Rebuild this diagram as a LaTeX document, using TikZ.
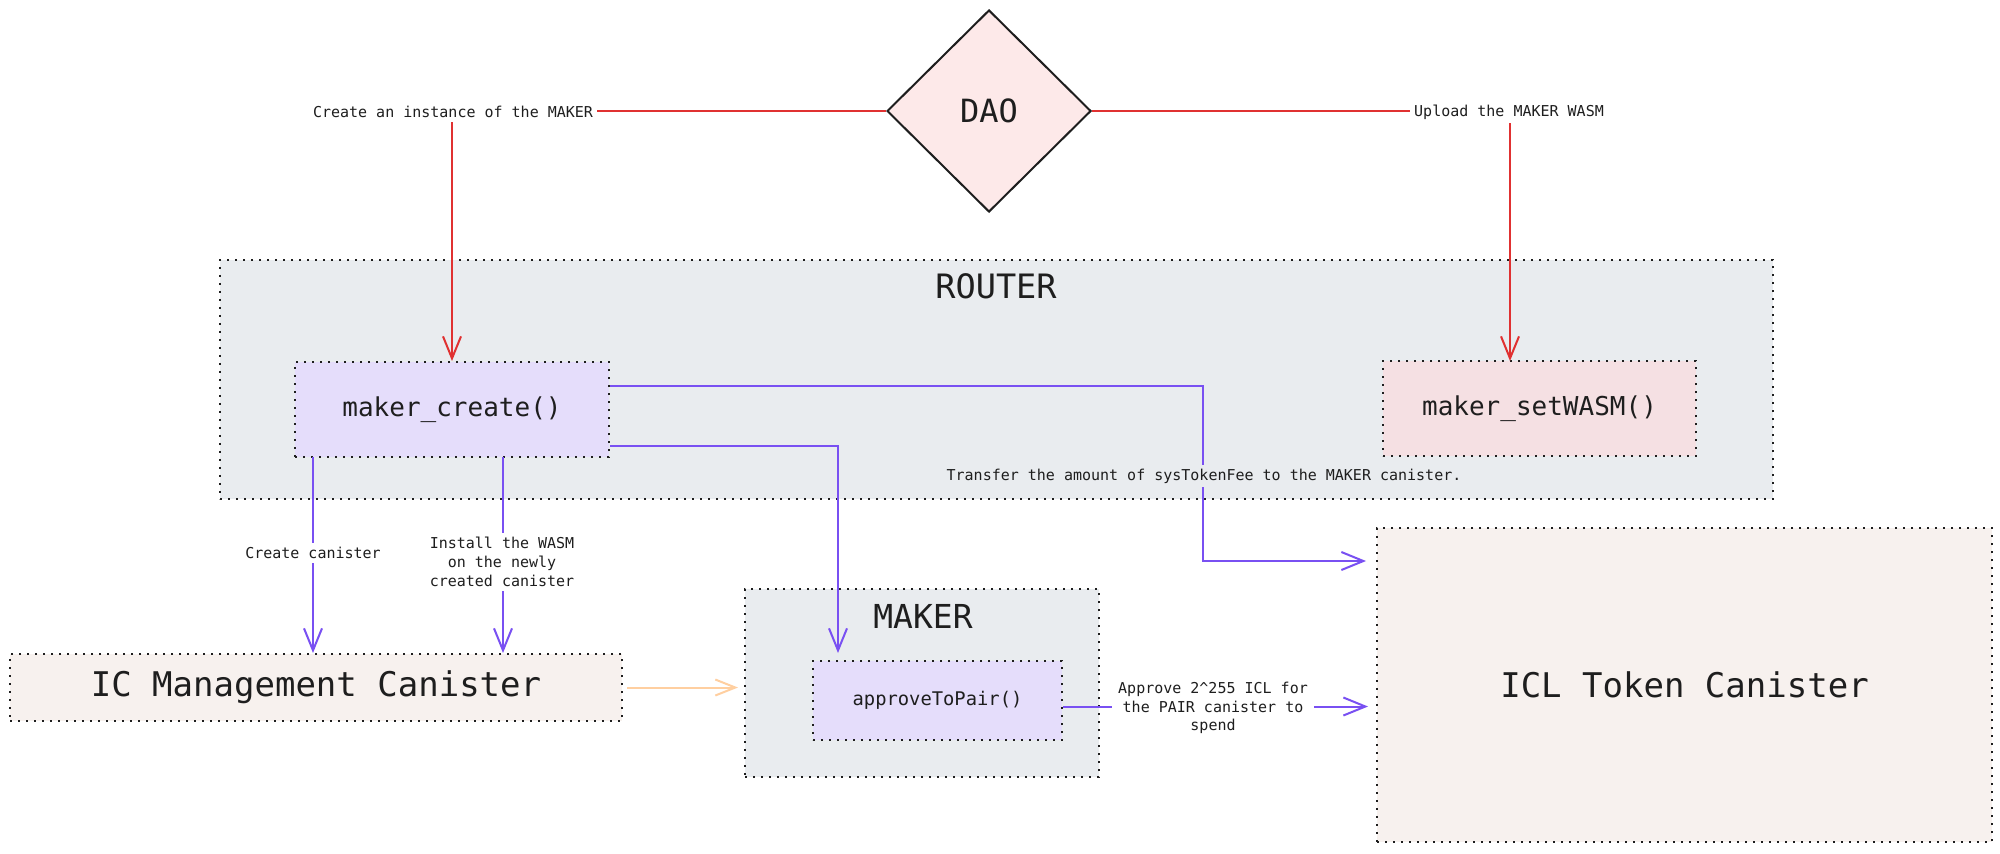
\documentclass[tikz,border=0pt]{standalone}
\usepackage{fontspec}
\setmonofont{DejaVu Sans Mono}
\usetikzlibrary{shapes.geometric,arrows.meta}

\definecolor{ink}{HTML}{1E1E1E}
\definecolor{routergray}{HTML}{E9ECEF}
\definecolor{callfill}{HTML}{E5DDFB}
\definecolor{wasmfill}{HTML}{F5E0E3}
\definecolor{daofill}{HTML}{FDE9E9}
\definecolor{canfill}{HTML}{F7F1EE}
\definecolor{callline}{HTML}{7950F2}
\definecolor{daoline}{HTML}{E03131}
\definecolor{feedline}{HTML}{FFCFA0}

\newcommand\lbltext{\fontsize{7.5pt}{9.4pt}\selectfont}

\begin{document}
\begin{tikzpicture}[x=0.5pt,y=-0.5pt,
  every node/.style={font=\ttfamily,text=ink},
  dotbox/.style={draw=ink,line width=1pt,dash pattern=on 1.1pt off 2.9pt,inner sep=0pt},
  callarrow/.style={draw=callline,line width=1pt,-{Straight Barb[length=11pt,width=9pt]}},
  daoarrow/.style={draw=daoline,line width=1pt,-{Straight Barb[length=11pt,width=9pt]}},
  feedarrow/.style={draw=feedline,line width=1pt,-{Straight Barb[length=10pt,width=8pt]}},
  lbl/.style={font=\ttfamily\lbltext,fill=white,inner sep=2pt,align=center}]
\fill[white] (0,0) rectangle (2000,853);
\useasboundingbox (0,0) rectangle (2000,853);

\node[draw=ink,line width=1pt,fill=daofill,diamond,aspect=1,minimum width=102pt,minimum height=101pt,inner sep=0pt,font=\ttfamily\fontsize{16pt}{19pt}\selectfont] (dao) at (989,111) {DAO};

\node[dotbox,fill=routergray,minimum width=776.5pt,minimum height=119.5pt] (router) at (996.5,379.5) {};
\node[font=\ttfamily\fontsize{16.8pt}{20pt}\selectfont] (routerT) at (996,286) {ROUTER};
\node[dotbox,fill=callfill,minimum width=157pt,minimum height=47.5pt,font=\ttfamily\fontsize{13pt}{16pt}\selectfont] (mcreate) at (452,409.5) {maker\_create()};
\node[dotbox,fill=wasmfill,minimum width=156.5pt,minimum height=47.5pt,font=\ttfamily\fontsize{13pt}{16pt}\selectfont] (msetwasm) at (1539.5,408.5) {maker\_setWASM()};

\node[dotbox,fill=canfill,minimum width=306pt,minimum height=33.5pt,font=\ttfamily\fontsize{17pt}{20pt}\selectfont] (ic) at (316,687.5) {IC Management Canister};

\node[dotbox,fill=routergray,minimum width=177pt,minimum height=94pt] (maker) at (922,683) {};
\node[font=\ttfamily\fontsize{16.5pt}{20pt}\selectfont] (makerT) at (923,616) {MAKER};
\node[dotbox,fill=callfill,minimum width=124.5pt,minimum height=39.5pt,font=\ttfamily\fontsize{9.4pt}{12pt}\selectfont] (approve) at (937.5,700.5) {approveToPair()};

\node[dotbox,fill=canfill,minimum width=307.5pt,minimum height=157pt,font=\ttfamily\fontsize{17pt}{20pt}\selectfont] (icl) at (1684.5,685) {ICL Token Canister};

\coordinate (wasmIn) at (1510,361);
\coordinate (tollBend) at (1203,561);
\coordinate (pairIn) at (838,653);
\coordinate (crOut) at (313,457);
\coordinate (instOut) at (503,457);

\draw[daoarrow] (dao.west) -| (mcreate.north);
\draw[daoarrow] (dao.east) -| (wasmIn);
\node[lbl] (createL) at (453,112) {Create an instance of the MAKER};
\node[lbl] (uploadL) at (1509,112) {Upload the MAKER WASM};

\draw[callarrow] ([yshift=12pt]mcreate.east) -| (tollBend) -- ([xshift=-5pt]tollBend -| icl.west);
\node[lbl,fill=routergray] (xferL) at (1204,476) {Transfer the amount of sysTokenFee to the MAKER canister.};
\draw[callarrow] ([yshift=-18pt]mcreate.east) -| (pairIn);

\draw[callarrow] (crOut) -- (crOut |- ic.north);
\node[lbl] (canL) at (313,553) {Create canister};
\draw[callarrow] (instOut) -- (instOut |- ic.north);
\node[lbl] (installL) at (502,562) {Install the WASM\\on the newly\\created canister};

\draw[feedarrow,shorten <=2pt,shorten >=3pt] (ic.east) -- (ic.east -| maker.west);

\draw[callarrow,shorten >=4pt] ([yshift=-3pt]approve.east) -- ([yshift=-3pt]approve.east -| icl.west);
\node[lbl,inner sep=3pt] (approveL) at (1213,708) {Approve 2\textasciicircum255 ICL for\\the PAIR canister to\\spend};
\end{tikzpicture}
\end{document}
